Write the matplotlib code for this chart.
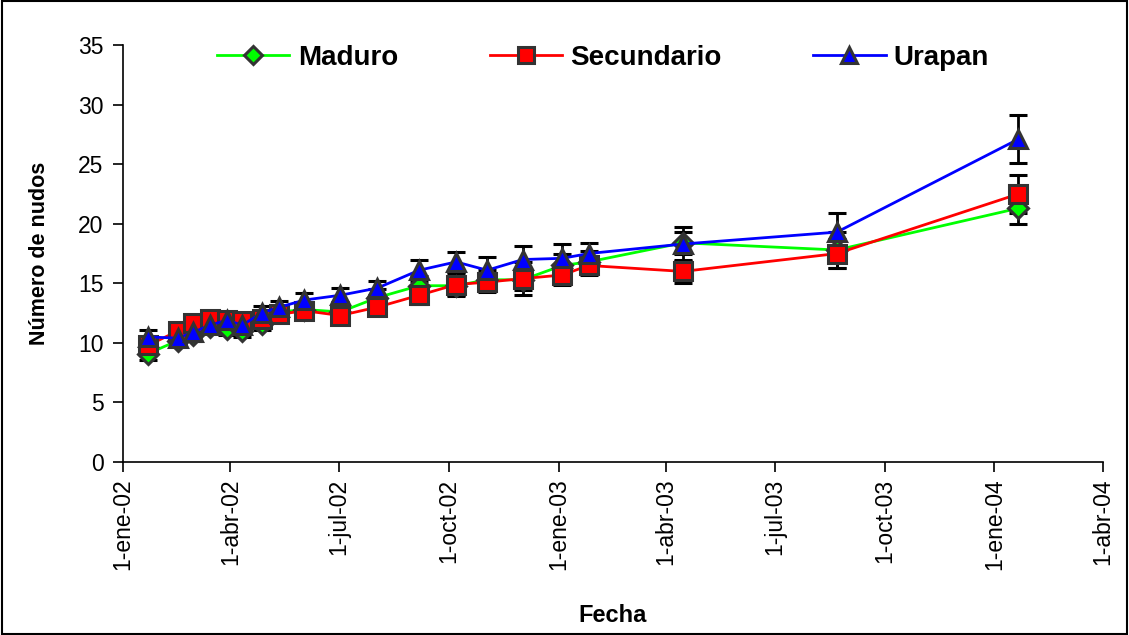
import numpy as np
import matplotlib
matplotlib.use('Agg')
import matplotlib.pyplot as plt
from matplotlib.patches import Rectangle
from datetime import datetime

plt.rcParams['font.family'] = ['Liberation Sans', 'DejaVu Sans']

fechas = ['2002-01-22', '2002-02-16', '2002-03-01', '2002-03-15', '2002-03-29',
          '2002-04-11', '2002-04-27', '2002-05-12', '2002-06-02', '2002-07-02',
          '2002-08-02', '2002-09-06', '2002-10-07', '2002-11-02', '2002-12-02',
          '2003-01-04', '2003-01-26', '2003-04-15', '2003-08-22', '2004-01-21']

maduro = [9.1, 10.2, 10.7, 11.3, 11.2, 11.0, 11.6, 12.6, 12.8, 12.6,
          13.8, 14.8, 14.8, 15.3, 15.3, 16.5, 16.8, 18.4, 17.8, 21.3]
maduro_err = [0.5, 0.4, 0.5, 0.5, 0.5, 0.5, 0.5, 0.5, 0.5, 0.6,
              0.7, 0.8, 0.8, 0.8, 0.9, 1.0, 0.9, 0.9, 1.5, 1.3]

secundario = [9.8, 11.0, 11.7, 12.0, 11.9, 11.8, 12.0, 12.4, 12.7, 12.3,
              13.0, 14.0, 14.9, 15.1, 15.4, 15.7, 16.5, 16.0, 17.5, 22.5]
secundario_err = [0.6, 0.5, 0.5, 0.5, 0.5, 0.5, 0.5, 0.5, 0.5, 0.5,
                  0.6, 0.7, 1.0, 0.8, 1.4, 0.8, 0.8, 1.0, 1.2, 1.6]

urapan = [10.5, 10.4, 10.9, 11.5, 11.9, 11.5, 12.5, 13.0, 13.6, 14.0,
          14.6, 16.1, 16.8, 16.1, 17.0, 17.1, 17.5, 18.3, 19.3, 27.1]
urapan_err = [0.6, 0.5, 0.5, 0.5, 0.5, 0.5, 0.6, 0.5, 0.6, 0.6,
              0.6, 0.9, 0.85, 1.1, 1.15, 1.2, 0.9, 1.4, 1.6, 2.0]

tick_fechas = ['2002-01-01', '2002-04-01', '2002-07-01', '2002-10-01', '2003-01-01',
               '2003-04-01', '2003-07-01', '2003-10-01', '2004-01-01', '2004-04-01']
tick_labels = ['1-ene-02', '1-abr-02', '1-jul-02', '1-oct-02', '1-ene-03',
               '1-abr-03', '1-jul-03', '1-oct-03', '1-ene-04', '1-abr-04']

x = [datetime.strptime(f, '%Y-%m-%d') for f in fechas]
xt = [datetime.strptime(f, '%Y-%m-%d') for f in tick_fechas]

fig = plt.figure(figsize=(11.29, 6.35), dpi=100)
ax = fig.add_axes([0.109, 0.2724, 0.868, 0.6566])

series = [
    ('Maduro', maduro, maduro_err, '#00ff00', 'D', 10),
    ('Secundario', secundario, secundario_err, '#ff0000', 's', 12.5),
    ('Urapan', urapan, urapan_err, '#0000ff', '^', 13.5),
]
for nombre, y, err, col, mk, ms in series:
    ax.errorbar(x, y, yerr=err, color=col, lw=2, marker=mk, ms=ms,
                mfc=col, mec='#333333', mew=2.2, ecolor='black', elinewidth=2,
                capsize=6.5, capthick=2, label=nombre)

ax.set_xlim(xt[0], xt[-1])
ax.set_ylim(0, 35)
ax.set_yticks(np.arange(0, 36, 5))
ax.set_xticks(xt)
ax.set_xticklabels(tick_labels, rotation=90)
ax.tick_params(axis='y', direction='out', length=7, width=1.2, labelsize=16.5, pad=7)
ax.tick_params(axis='x', direction='out', length=7, width=1.2, labelsize=16.5, pad=5)
ax.spines['top'].set_visible(False)
ax.spines['right'].set_visible(False)
ax.spines['left'].set_linewidth(1.2)
ax.spines['bottom'].set_linewidth(1.2)

ax.set_xlabel('Fecha', fontsize=17, fontweight='bold', labelpad=24)
ax.set_ylabel('Número de nudos', fontsize=15.5, fontweight='bold', labelpad=20)

handles, labels = ax.get_legend_handles_labels()
handles = [h[0] for h in handles]
ax.legend(handles, labels, loc='upper center', bbox_to_anchor=(0.49, 1.06), ncol=3,
          frameon=False, prop={'size': 20, 'weight': 'bold'}, handlelength=2.6,
          columnspacing=3.3, handletextpad=0.3, markerscale=0.9)

fig.add_artist(Rectangle((0.002, 0.002), 0.996, 0.996, transform=fig.transFigure,
                         fill=False, edgecolor='black', lw=1.5))

fig.savefig('out.png', dpi=100)
